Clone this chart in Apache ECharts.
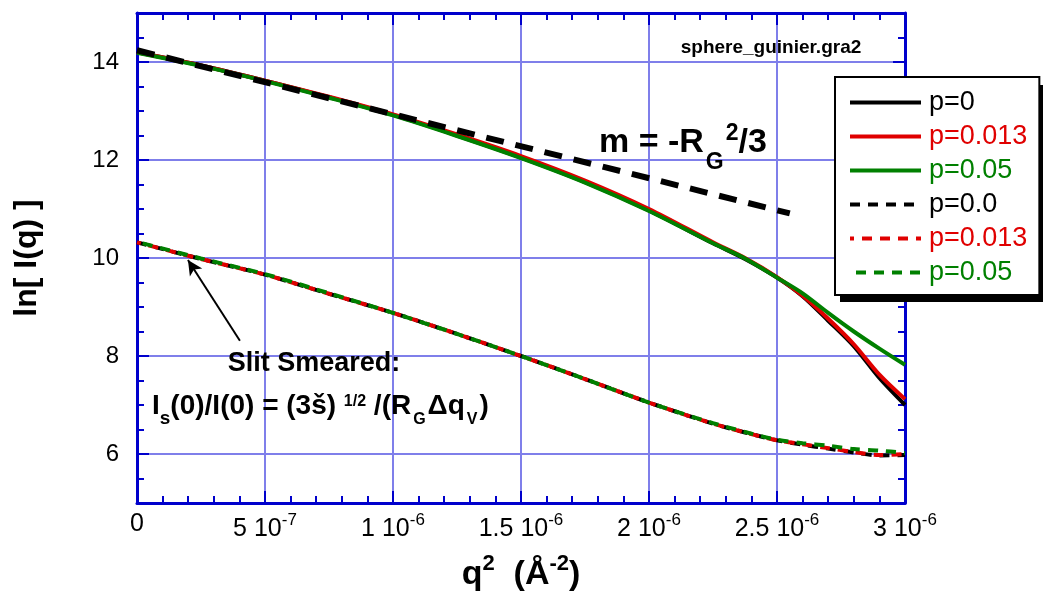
<!DOCTYPE html>
<html>
<head>
<meta charset="utf-8">
<script src="https://cdn.jsdelivr.net/npm/echarts@6/dist/echarts.min.js"></script>
<style>
  html, body { margin: 0; padding: 0; background: #fff; }
  #chart { width: 1043px; height: 593px; }
</style>
</head>
<body>
<div id="chart"></div>
<script>
// q^2 sample positions (A^-2)
const q2 = [0, 2.5e-7, 5e-7, 7.5e-7, 1e-6, 1.25e-6, 1.5e-6, 1.75e-6, 2e-6, 2.25e-6, 2.375e-6, 2.5e-6, 2.6e-6, 2.7e-6, 2.8e-6, 2.9e-6, 3e-6]

// pinhole curves, ln I(q)
const pinP0 = [14.20, 13.93, 13.62, 13.28, 12.92, 12.50, 12.05, 11.55, 10.97, 10.30, 9.98, 9.60, 9.22, 8.72, 8.20, 7.55, 7.00]
const pinP013 = [14.20, 13.93, 13.62, 13.29, 12.93, 12.52, 12.08, 11.58, 11.00, 10.32, 10.00, 9.61, 9.23, 8.76, 8.24, 7.62, 7.12]
const pinP05 = [14.19, 13.92, 13.61, 13.27, 12.91, 12.49, 12.04, 11.54, 10.96, 10.30, 9.99, 9.60, 9.28, 8.88, 8.50, 8.15, 7.82]

// slit smeared curves
const slitP0 = [10.32, 9.98, 9.66, 9.27, 8.88, 8.45, 8.00, 7.53, 7.05, 6.62, 6.44, 6.28, 6.19, 6.11, 6.03, 5.97, 5.98]
const slitP013 = [10.32, 9.98, 9.66, 9.27, 8.88, 8.45, 8.00, 7.53, 7.05, 6.62, 6.44, 6.28, 6.20, 6.12, 6.04, 5.98, 6.00]
const slitP05 = [10.33, 9.99, 9.67, 9.28, 8.88, 8.45, 8.00, 7.53, 7.05, 6.63, 6.45, 6.29, 6.22, 6.17, 6.10, 6.07, 6.02]

// Guinier slope line
const guinierX = [0, 2.55e-6]
const guinierY = [14.24, 10.91]

// arrow from label to the slit curve
const arrowFrom = [4.02e-7, 8.31]
const arrowTo = [1.99e-7, 9.96]

// tick labels
const xTickLabels = [['0', ''], ['5 10', '-7'], ['1 10', '-6'], ['1.5 10', '-6'], ['2 10', '-6'], ['2.5 10', '-6'], ['3 10', '-6']]
const yTickValues = [6, 8, 10, 12, 14]

const legendNames = ['p=0', 'p=0.013', 'p=0.05', 'p=0.0', 'p=0.013 slit', 'p=0.05 slit']

const BLACK = '#000000'
const RED = '#e00000'
const GREEN = '#008000'
const BLUE = '#0000cc'
const GRIDC = '#7f7fea'
const FONT = '"Liberation Sans", Arial, sans-serif'

const zip = (xs, ys) => xs.map((x, i) => [x, ys[i]])

const solid = (name, ys, color) => ({
  name,
  type: 'line',
  data: zip(q2, ys),
  symbol: 'none',
  smooth: 0.3,
  lineStyle: { color, width: 4 },
  itemStyle: { color },
  z: 3
})

const dashed = (name, ys, color, offset) => ({
  name,
  type: 'line',
  data: zip(q2, ys),
  symbol: 'none',
  smooth: 0.3,
  lineStyle: { color, width: 4, type: [10, 8], dashOffset: offset },
  itemStyle: { color },
  z: 3
})

const xLabel = (v) => {
  const t = xTickLabels[Math.round(v / 5e-7)]
  if (!t) return ''
  return t[1] ? `{n|${t[0]}}{s|${t[1]}}` : `{n|${t[0]}}`
}

const frameX = (pos, labels) => ({
  type: 'value',
  position: pos,
  min: 0,
  max: 3e-6,
  interval: 5e-7,
  axisLine: { show: true, lineStyle: { color: BLUE, width: 3 } },
  axisTick: { show: true, inside: true, length: 12, lineStyle: { color: BLUE, width: 2 } },
  minorTick: { show: true, splitNumber: 5, length: 7, lineStyle: { color: BLUE, width: 2 } },
  splitLine: { show: labels, lineStyle: { color: GRIDC, width: 2 } },
  axisLabel: labels ? {
    show: true,
    margin: 9,
    formatter: xLabel,
    rich: {
      n: { fontSize: 25, fontFamily: FONT, color: '#000', verticalAlign: 'middle' },
      s: { fontSize: 17, fontFamily: FONT, color: '#000', verticalAlign: 'middle', padding: [0, 0, 17, 0] }
    }
  } : { show: false }
})

const frameY = (pos, labels, minor) => ({
  type: 'value',
  position: pos,
  min: 5,
  max: 15,
  interval: minor ? 0.5 : undefined,
  axisLine: { show: !minor, lineStyle: { color: BLUE, width: 3 } },
  axisTick: { show: true, inside: true, length: minor ? 7 : 12, lineStyle: { color: BLUE, width: 2 } },
  splitLine: { show: labels, lineStyle: { color: GRIDC, width: 2 } },
  axisLabel: labels ? {
    show: true,
    margin: 18,
    fontSize: 24,
    fontFamily: FONT,
    color: '#000',
    formatter: (v) => (yTickValues.indexOf(v) >= 0 ? String(v) : '')
  } : { show: false }
})

const chart = echarts.init(document.getElementById('chart'), null, { renderer: 'canvas' })

const xMain = frameX('bottom', true)
xMain.name = '{t|q}{p|2}{t|  (Å}{p|-2}{t|)}'
xMain.nameLocation = 'middle'
xMain.nameGap = 50
xMain.nameTextStyle = {
  rich: {
    t: { fontSize: 34, fontWeight: 'bold', fontFamily: FONT, color: '#000', verticalAlign: 'middle' },
    p: { fontSize: 22, fontWeight: 'bold', fontFamily: FONT, color: '#000', verticalAlign: 'middle', padding: [0, 0, 22, 0] }
  }
}

const yMain = frameY('left', true, false)
yMain.name = 'ln[ I(q) ]'
yMain.nameLocation = 'middle'
yMain.nameGap = 94
yMain.nameTextStyle = { fontSize: 32, fontWeight: 'bold', fontFamily: FONT, color: '#000' }

const guinierSeries = {
  name: 'guinier',
  type: 'line',
  data: zip(guinierX, guinierY),
  symbol: 'none',
  lineStyle: { color: BLACK, width: 6, type: [18, 12] },
  z: 4,
  markLine: {
    silent: true,
    symbol: ['none', 'arrow'],
    symbolSize: [11, 15],
    label: { show: false },
    lineStyle: { color: BLACK, width: 2, type: 'solid' },
    data: [[{ coord: arrowFrom }, { coord: arrowTo }]]
  }
}

const option = {
  animation: false,
  backgroundColor: '#fff',
  grid: { left: 137, right: 138, top: 13, bottom: 90, containLabel: false, outerBoundsMode: 'none' },
  xAxis: [xMain, frameX('top', false)],
  yAxis: [
    yMain,
    frameY('left', false, true),
    frameY('right', false, false),
    frameY('right', false, true)
  ],
  legend: {
    orient: 'vertical',
    left: 835,
    top: 77,
    padding: [12, 12, 9, 13],
    itemGap: 7,
    itemWidth: 71,
    itemHeight: 12,
    backgroundColor: '#fff',
    borderColor: '#000',
    borderWidth: 2,
    borderRadius: 0,
    z: 10,
    itemStyle: { opacity: 0 },
    lineStyle: { width: 4 },
    formatter: (name) => name.replace(' slit', ''),
    textStyle: { fontSize: 27, fontFamily: FONT, lineHeight: 27, padding: [0, 0, 0, 3] },
    data: [
      { name: legendNames[0], textStyle: { color: BLACK } },
      { name: legendNames[1], textStyle: { color: RED } },
      { name: legendNames[2], textStyle: { color: GREEN } },
      { name: legendNames[3], textStyle: { color: BLACK } },
      { name: legendNames[4], textStyle: { color: RED } },
      { name: legendNames[5], textStyle: { color: GREEN } }
    ]
  },
  series: [
    solid(legendNames[0], pinP0, BLACK),
    solid(legendNames[1], pinP013, RED),
    solid(legendNames[2], pinP05, GREEN),
    dashed(legendNames[3], slitP0, BLACK, 0),
    dashed(legendNames[4], slitP013, RED, 6),
    dashed(legendNames[5], slitP05, GREEN, 12),
    guinierSeries
  ],
  graphic: [
    {
      // drop shadow behind the legend box
      type: 'rect',
      z: 9,
      shape: { x: 840, y: 85, width: 210, height: 217 },
      style: { fill: '#000' }
    },
    {
      type: 'text',
      x: 771,
      y: 48,
      z: 20,
      style: {
        text: 'sphere_guinier.gra2',
        font: 'bold 19px ' + FONT,
        fill: '#000',
        align: 'center',
        verticalAlign: 'middle'
      }
    },
    {
      type: 'text',
      x: 599,
      y: 143,
      z: 20,
      style: {
        text: '{m|m = -R}{g|G}{e|2}{m|/3}',
        align: 'left',
        verticalAlign: 'middle',
        rich: {
          m: { fontSize: 34, fontWeight: 'bold', fontFamily: FONT, fill: '#000', verticalAlign: 'middle' },
          g: { fontSize: 23, fontWeight: 'bold', fontFamily: FONT, fill: '#000', verticalAlign: 'middle', padding: [40, 0, 0, 2] },
          e: { fontSize: 23, fontWeight: 'bold', fontFamily: FONT, fill: '#000', verticalAlign: 'middle', padding: [0, 0, 19, 2] }
        }
      }
    },
    {
      type: 'text',
      x: 314,
      y: 364,
      z: 20,
      style: {
        text: 'Slit Smeared:',
        font: 'bold 27px ' + FONT,
        fill: '#000',
        align: 'center',
        verticalAlign: 'middle'
      }
    },
    {
      type: 'text',
      x: 152,
      y: 406,
      z: 20,
      style: {
        text: '{b|I}{s|s}{b|(0)/I(0) = (3š) }{p|1/2}{b| /(R}{g|G}{b|Δq}{g|V}{b|)}',
        align: 'left',
        verticalAlign: 'middle',
        rich: {
          b: { fontSize: 28, fontWeight: 'bold', fontFamily: FONT, fill: '#000', verticalAlign: 'middle' },
          s: { fontSize: 19, fontWeight: 'bold', fontFamily: FONT, fill: '#000', verticalAlign: 'middle', padding: [26, 0, 0, 0] },
          g: { fontSize: 16, fontWeight: 'bold', fontFamily: FONT, fill: '#000', verticalAlign: 'middle', padding: [28, 2, 0, 2] },
          p: { fontSize: 16, fontWeight: 'bold', fontFamily: FONT, fill: '#000', verticalAlign: 'middle', padding: [0, 0, 8, 0] }
        }
      }
    }
  ]
}

chart.setOption(option)
</script>
</body>
</html>
